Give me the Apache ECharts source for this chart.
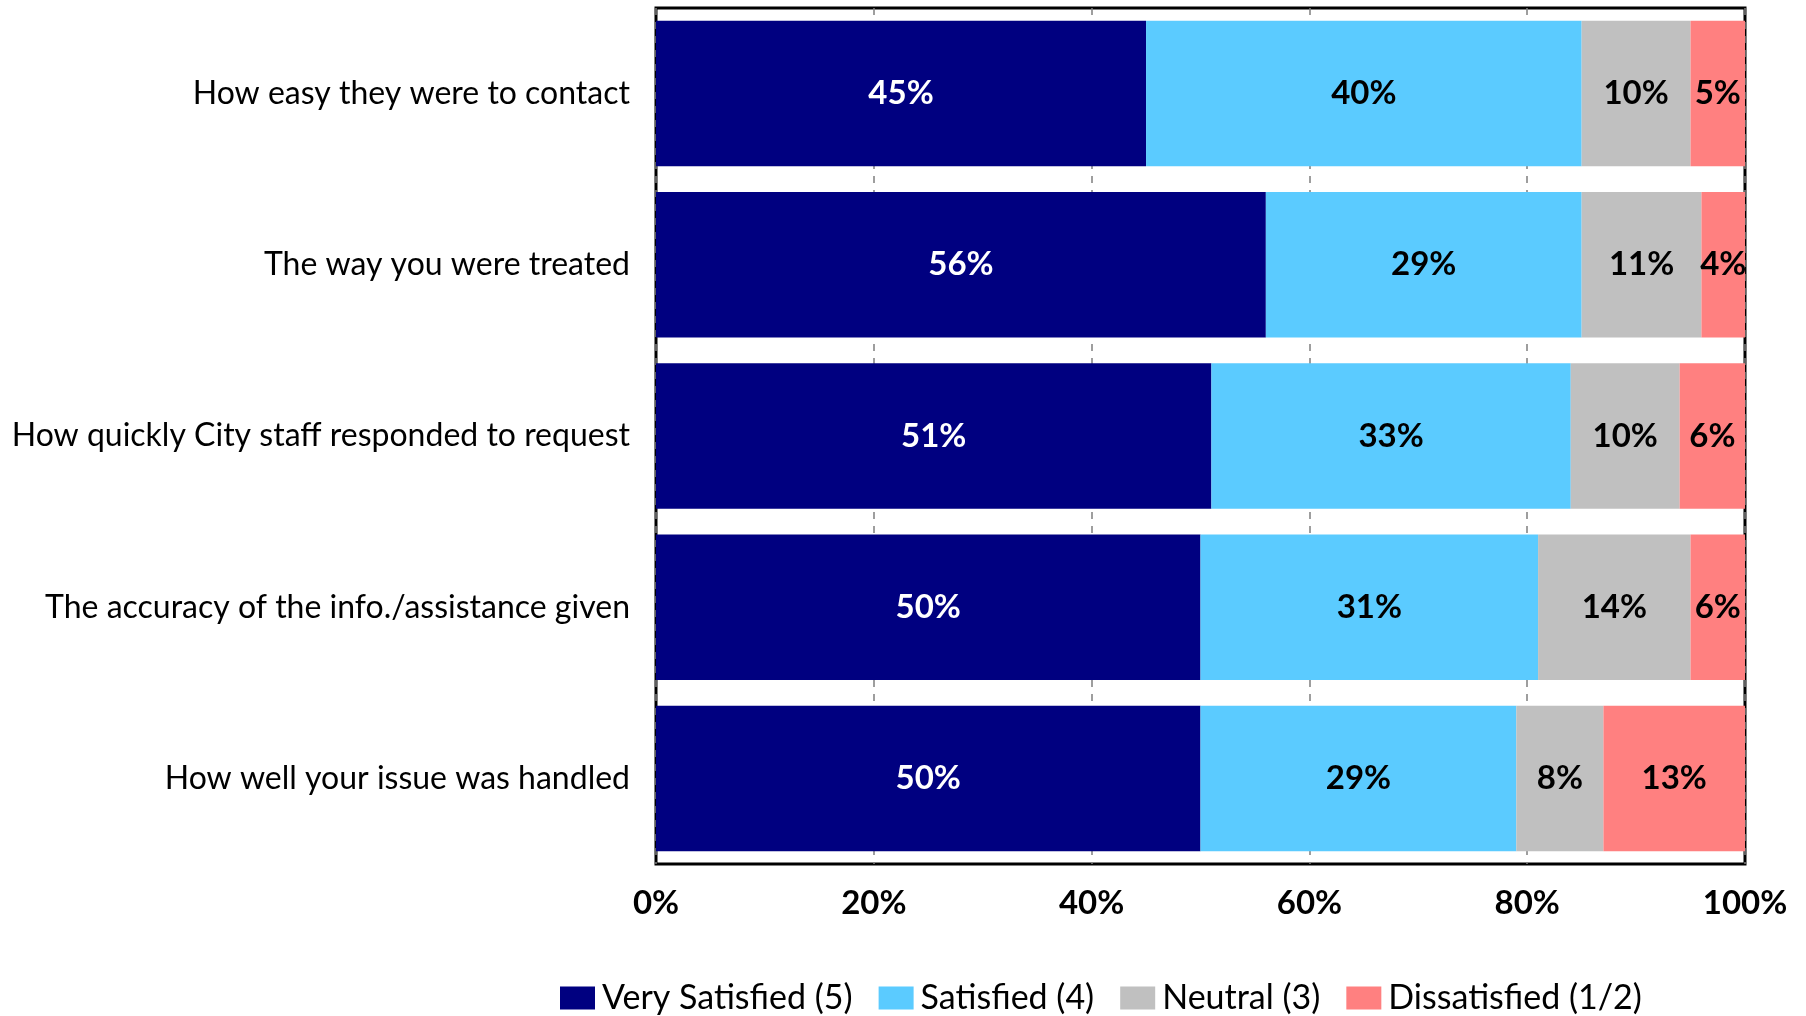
<!DOCTYPE html>
<html>
<head>
<meta charset="utf-8">
<script src="https://cdn.jsdelivr.net/npm/echarts@6/dist/echarts.min.js"></script>
<style>
  html, body { margin: 0; padding: 0; background: #fff; }
  #chart { width: 1806px; height: 1016px; }
</style>
</head>
<body>
<div id="chart"></div>
<script>
// Survey questions (top to bottom)
const categories = [
  'How easy they were to contact',
  'The way you were treated',
  'How quickly City staff responded to request',
  'The accuracy of the info./assistance given',
  'How well your issue was handled'
];

// Percent of respondents per rating
const verySatisfied = [45, 56, 51, 50, 50];
const satisfied     = [40, 29, 33, 31, 29];
const neutral       = [10, 11, 10, 14, 8];
const dissatisfied  = [5, 4, 6, 6, 13];

const seriesNames = ['Very Satisfied (5)', 'Satisfied (4)', 'Neutral (3)', 'Dissatisfied (1/2)'];
const seriesColors = ['#000080', '#5BCBFF', '#C0C0C0', '#FF8080'];
const labelColors = ['#ffffff', '#000000', '#000000', '#000000'];
const seriesData = [verySatisfied, satisfied, neutral, dissatisfied];

const FONT = 'Lato, "Open Sans", sans-serif';

const chart = echarts.init(document.getElementById('chart'));

chart.setOption({
  animation: false,
  backgroundColor: '#ffffff',
  grid: {
    left: 656,
    right: 61,
    top: 8,
    bottom: 152,
    show: true,
    borderColor: '#000000',
    borderWidth: 3,
    backgroundColor: 'transparent',
    containLabel: false
  },
  legend: {
    data: seriesNames,
    left: 560,
    top: 981,
    padding: 0,
    itemWidth: 35,
    itemHeight: 23,
    itemGap: 26,
    icon: 'rect',
    textStyle: {
      fontFamily: FONT,
      fontSize: 34,
      color: '#000000',
      padding: [0, 0, 0, 2]
    }
  },
  xAxis: {
    type: 'value',
    min: 0,
    max: 100,
    interval: 20,
    axisLine: { show: false },
    axisTick: { show: false },
    splitLine: {
      show: true,
      lineStyle: { color: '#7f7f7f', width: 1.5, type: [7, 7] }
    },
    axisLabel: {
      formatter: '{value}%',
      fontFamily: FONT,
      fontWeight: 'bold',
      fontSize: 33,
      color: '#000000',
      margin: 23
    }
  },
  yAxis: {
    type: 'category',
    data: categories,
    inverse: true,
    axisLine: { show: false },
    axisTick: { show: false },
    axisLabel: {
      fontFamily: FONT,
      fontSize: 32,
      color: '#000000',
      margin: 26
    }
  },
  series: seriesData.map((vals, i) => ({
    name: seriesNames[i],
    type: 'bar',
    stack: 'total',
    barCategoryGap: '15%',
    data: vals,
    itemStyle: { color: seriesColors[i] },
    label: {
      show: true,
      position: 'inside',
      formatter: '{c}%',
      fontFamily: FONT,
      fontWeight: 'bold',
      fontSize: 33,
      color: labelColors[i]
    }
  }))
});
</script>
</body>
</html>
